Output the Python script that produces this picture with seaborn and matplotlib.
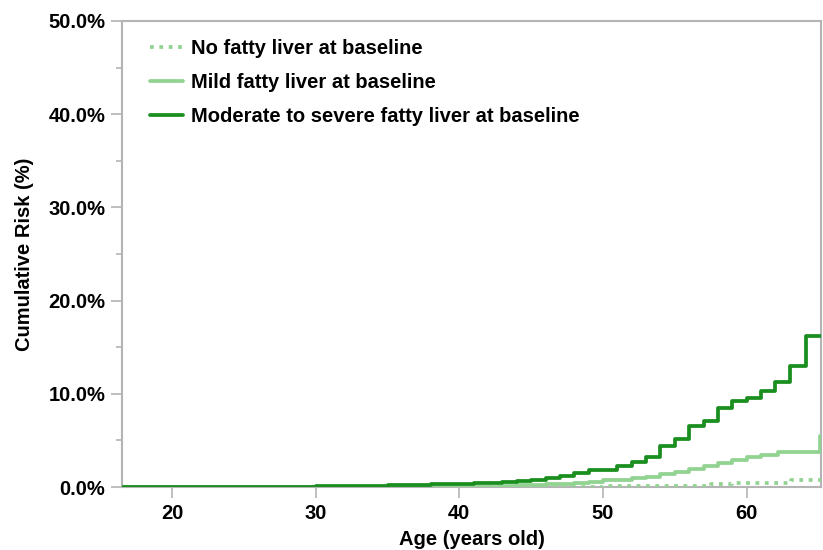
import matplotlib
matplotlib.use("Agg")
import matplotlib.pyplot as plt
import matplotlib.ticker as mticker
import seaborn as sns

# Step-curve data (age in years, cumulative risk in %)
no_ages = [16.5, 45, 50, 53, 57.5, 59, 63.1, 65.2]
no_risk = [0.0, 0.05, 0.1, 0.15, 0.3, 0.45, 0.8, 0.8]

mild_ages = [16.5, 40, 43, 44, 45, 46, 47, 48, 49, 50, 51, 52, 53, 54, 55,
             56, 57, 58, 59, 60, 61, 62.2, 65.1, 65.2]
mild_risk = [0.0, 0.05, 0.1, 0.2, 0.25, 0.3, 0.35, 0.45, 0.55, 0.7, 0.8, 0.93,
             1.1, 1.35, 1.65, 1.9, 2.25, 2.6, 2.95, 3.25, 3.4, 3.8, 5.5, 5.5]

mod_ages = [16.5, 25, 30, 35, 38, 41, 43, 44, 45, 46, 47, 48, 49, 51, 52, 53,
            54, 55, 56, 57, 58, 59, 60, 61, 62, 63, 64.1, 65.2]
mod_risk = [0.0, 0.05, 0.1, 0.25, 0.3, 0.4, 0.5, 0.64, 0.8, 1.0, 1.2, 1.5, 1.8,
            2.3, 2.7, 3.25, 4.4, 5.1, 6.54, 7.07, 8.5, 9.2, 9.6, 10.3, 11.3,
            13.0, 16.2, 16.2]

LABELS = ["No fatty liver at baseline",
          "Mild fatty liver at baseline",
          "Moderate to severe fatty liver at baseline"]

DARK = "#1a8f1f"
LIGHT = "#92d392"
SPINE = "#b4b4b4"
FS = 14.5

sns.set_theme(style="white")
plt.rcParams.update({
    "font.family": ["Liberation Sans", "DejaVu Sans"],
    "font.weight": "bold",
    "axes.labelweight": "bold",
    "text.color": "black",
    "axes.labelcolor": "black",
})

fig = plt.figure(figsize=(8.23, 5.5), dpi=100)
ax = fig.add_axes([0.148, 0.1145, 0.85, 0.8475])

sns.lineplot(x=no_ages, y=no_risk, ax=ax, drawstyle="steps-post", zorder=3,
             color=LIGHT, linewidth=2.7, linestyle=(0, (1, 1.5)), label=LABELS[0])
sns.lineplot(x=mild_ages, y=mild_risk, ax=ax, drawstyle="steps-post", zorder=3,
             color=LIGHT, linewidth=2.7, label=LABELS[1])
sns.lineplot(x=mod_ages, y=mod_risk, ax=ax, drawstyle="steps-post", zorder=3,
             color=DARK, linewidth=2.7, label=LABELS[2])

ax.set_xlim(16.5, 65.2)
ax.set_ylim(0, 50)
ax.set_xticks([20, 30, 40, 50, 60])
ax.set_yticks([0, 10, 20, 30, 40, 50])
ax.yaxis.set_minor_locator(mticker.MultipleLocator(5))
ax.yaxis.set_major_formatter(mticker.FuncFormatter(lambda v, p: f"{v:.1f}%"))

for s in ax.spines.values():
    s.set_color(SPINE)
    s.set_linewidth(1.5)

ax.tick_params(axis="both", which="major", direction="out", length=8, width=1.2,
               color=SPINE, labelsize=FS, labelcolor="black", pad=4)
ax.tick_params(axis="y", which="minor", direction="out", length=4, width=1.2,
               color=SPINE, left=True)
ax.tick_params(axis="x", bottom=True)
ax.tick_params(axis="y", left=True)
for lbl in ax.get_xticklabels() + ax.get_yticklabels():
    lbl.set_fontweight("bold")

ax.set_xlabel("Age (years old)", fontsize=FS, fontweight="bold", labelpad=5)
ax.set_ylabel("Cumulative Risk (%)", fontsize=FS, fontweight="bold", labelpad=10)

leg = ax.legend(loc="upper left", frameon=False, fontsize=FS,
                handlelength=1.6, handletextpad=0.4, labelspacing=0.75,
                bbox_to_anchor=(0.015, 1.0))
for t in leg.get_texts():
    t.set_fontweight("bold")

fig.savefig("out.png", dpi=100)
